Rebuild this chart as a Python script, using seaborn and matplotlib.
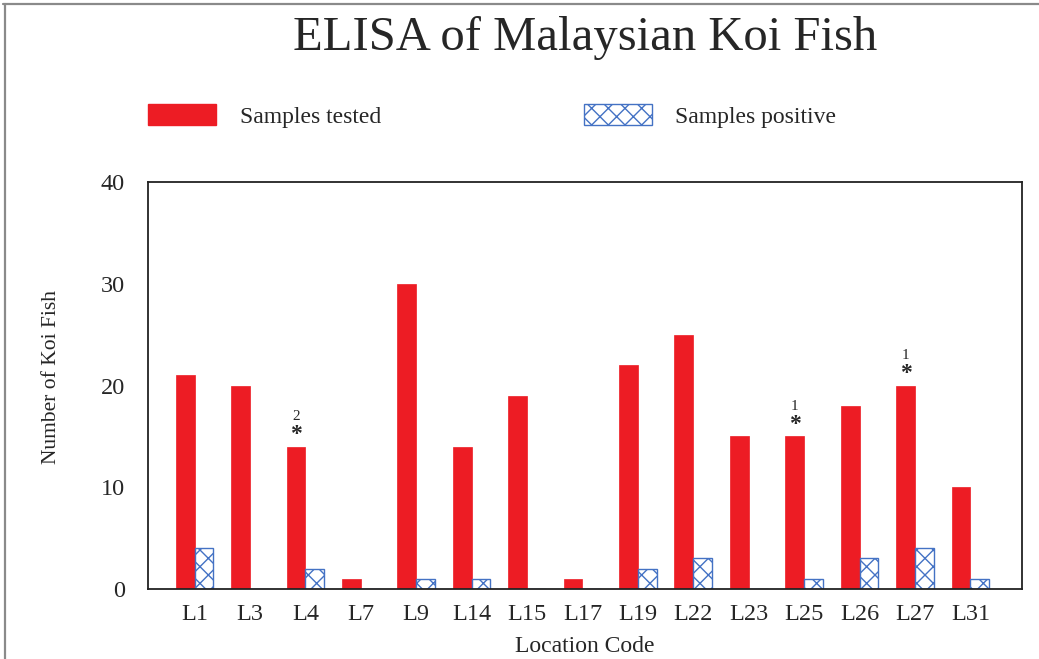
import numpy as np
import pandas as pd
import matplotlib.pyplot as plt
import seaborn as sns
from matplotlib.patches import Patch
from matplotlib.lines import Line2D

sns.set_style("white")
plt.rcParams['font.family'] = ['Liberation Serif', 'DejaVu Serif']
plt.rcParams['hatch.linewidth'] = 1.0

# data
locations = ['L1', 'L3', 'L4', 'L7', 'L9', 'L14', 'L15', 'L17', 'L19',
             'L22', 'L23', 'L25', 'L26', 'L27', 'L31']
tested = [21, 20, 14, 1, 30, 14, 19, 1, 22, 25, 15, 15, 18, 20, 10]
positive = [4, 0, 2, 0, 1, 1, 0, 0, 2, 3, 0, 1, 3, 4, 1]
# asterisk notes above tested bars
notes = {'L4': '2', 'L25': '1', 'L27': '1'}

series = ['Samples tested', 'Samples positive']
red = '#ED1C24'
blue = '#4472C4'

df = pd.DataFrame({
    'Location': locations * 2,
    'Count': tested + positive,
    'Series': [series[0]] * len(locations) + [series[1]] * len(locations),
})

fig = plt.figure(figsize=(10.39, 6.59), dpi=100)
ax = fig.add_axes([0.1424, 0.1062, 0.8412, 0.6176])

sns.barplot(data=df, x='Location', y='Count', hue='Series', hue_order=series,
            order=locations, palette=[red, 'white'], width=0.68,
            saturation=1, ax=ax, legend=False)

for bar in ax.containers[0]:
    bar.set_edgecolor(red)
    bar.set_linewidth(0.5)
for bar in ax.containers[1]:
    bar.set_facecolor('white')
    bar.set_edgecolor(blue)
    bar.set_hatch('xx')
    bar.set_linewidth(1.0)

# annotations
for loc, num in notes.items():
    i = locations.index(loc)
    h = tested[i]
    xc = i - 0.17
    ax.text(xc, h + 0.6, '*', ha='center', va='baseline', fontsize=17,
            fontweight='bold')
    ax.text(xc, h + 2.6, num, ha='center', va='baseline', fontsize=11)

ax.set_xlim(-0.84, 14.93)
ax.set_ylim(0, 40)
ax.set_yticks([0, 10, 20, 30, 40])
ax.tick_params(axis='y', direction='in', length=10, width=1, labelsize=17.5, pad=16.5)
ax.tick_params(axis='x', length=0, labelsize=17.5, pad=11)
for s in ax.spines.values():
    s.set_color('#222222')
    s.set_linewidth(1.3)

ax.set_xlabel('Location Code', fontsize=17, labelpad=8)
ax.set_ylabel('Number of Koi Fish', fontsize=15.5)
ax.yaxis.set_label_coords(-0.099, 0.52)

fig.text(0.563, 0.942, 'ELISA of Malaysian Koi Fish', ha='center', va='center',
         fontsize=35)

handles = [Patch(facecolor=red, edgecolor=red),
           Patch(facecolor='white', edgecolor=blue, hatch='xx')]
fig.legend(handles, series, loc='center left', bbox_to_anchor=(0.1424, 0.824),
           ncol=2, frameon=False, fontsize=17, handlelength=2.9,
           handleheight=0.98, handletextpad=0.98, columnspacing=8.6,
           borderpad=0, borderaxespad=0)

# thin gray frame on top and left of the figure
fig.add_artist(Line2D([0.003, 1.0], [0.994, 0.994], transform=fig.transFigure,
                      color='#8a8a8a', lw=1.6))
fig.add_artist(Line2D([0.005, 0.005], [0.0, 0.994], transform=fig.transFigure,
                      color='#8a8a8a', lw=1.6))

fig.savefig('out.png', dpi=100)
